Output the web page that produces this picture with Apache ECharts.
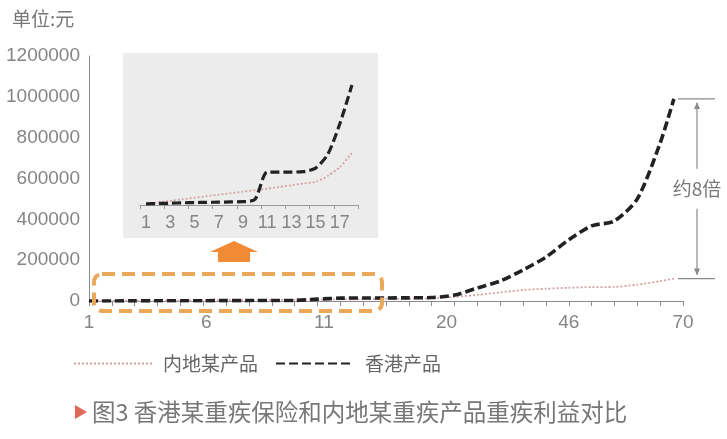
<!DOCTYPE html>
<html><head><meta charset="utf-8">
<script src="https://cdn.jsdelivr.net/npm/echarts@6/dist/echarts.min.js"></script>
<style>html,body{margin:0;padding:0;background:#fff}#c{width:727px;height:439px}</style>
</head><body><div id="c"></div>
<script>
// ---- data ----
const xPos = [0,1,2,3,4,5,6,7,8,9,10,11,12,13,14,15,16,17,18,19,20,21,22,23,24,25,25.6];
const xTickLabels = {0:'1',5:'6',10:'11',16:'20',21:'46',26:'70'};
const mainlandMain = [0,500,1000,1500,2000,2800,3500,4200,5000,6000,7000,8000,9000,10000,11000,13000,20000,30000,42000,54000,60000,65000,68000,69000,80000,97000,110000];
const hkMain = [0,300,600,900,1200,1500,1800,2100,2400,2800,9000,14000,14500,15000,15500,17000,29000,64000,98000,152000,215000,300000,368000,392000,500000,774000,990000];
const insetYears = ['1','2','3','4','5','6','7','8','9','10','11','12','13','14','15','16','17','18'];
const mainlandInset = [500,1200,1900,2600,3300,4000,4700,5400,6100,6800,7400,8200,9000,9800,10500,13200,17300,23700];
const hkInset = [500,700,800,1000,1100,1200,1300,1400,1500,2600,15000,15000,15000,15200,16800,23000,37000,54600];
const yMin = 0, yMax = 1200000, yStep = 200000;
const seriesNames = ['内地某产品','香港产品'];
const unitText = '单位:元';
const ratioText = '约8倍';
const captionText = '图3 香港某重疾保险和内地某重疾产品重疾利益对比';

const FONT = '"Liberation Sans","Noto Sans CJK SC",sans-serif';
const CJK = '"Noto Sans CJK SC","Liberation Sans",sans-serif';
const GREY = '#858585';
const DOT = '#d2a3a3';
const DASH = '#222';

// small horizontal nudges of individual tick labels (layout only)
const labelNudge = {'6': [0, 0, 0, 6], '11': [0, 0, 0, 13], '20': [0, 16, 0, 0]};

const chart = echarts.init(document.getElementById('c'));
const pair = (arr) => arr.map((v, i) => [xPos[i], v]);

const rich = {};
Object.keys(labelNudge).forEach((k, i) => {
  rich['n' + i] = {fontSize: 19, color: GREY, padding: labelNudge[k]};
});

chart.setOption({
  animation: false,
  backgroundColor: '#fff',
  textStyle: {fontFamily: FONT},
  grid: [
    {left: 89, right: 44, top: 56, bottom: 138},
    {left: 140, right: 369, top: 60, bottom: 234}
  ],
  legend: {
    left: 73, top: 354, padding: 0, itemWidth: 78, itemHeight: 10, itemGap: 17,
    data: seriesNames,
    itemStyle: {opacity: 0},
    textStyle: {fontSize: 19, color: '#666', fontFamily: CJK, padding: [0, 0, 0, 6]}
  },
  xAxis: [
    {
      type: 'value', gridIndex: 0, min: 0, max: 26, interval: 1,
      axisLine: {lineStyle: {color: '#8a8a8a', width: 1}},
      axisTick: {show: true, length: 5, lineStyle: {color: '#8a8a8a'}},
      splitLine: {show: false},
      axisLabel: {
        fontSize: 19, color: GREY, margin: 12,
        formatter: v => {
          const t = xTickLabels[v];
          if (t === undefined) return '';
          const idx = Object.keys(labelNudge).indexOf(t);
          return idx >= 0 ? '{n' + idx + '|' + t + '}' : t;
        },
        rich: rich
      }
    },
    {
      type: 'category', gridIndex: 1, data: insetYears, boundaryGap: true,
      axisLine: {lineStyle: {color: '#9a9a9a', width: 1}},
      axisTick: {show: true, length: 4, lineStyle: {color: '#9a9a9a'}},
      axisLabel: {interval: 1, fontSize: 18, color: GREY, margin: 9}
    }
  ],
  yAxis: [
    {
      type: 'value', gridIndex: 0, min: yMin, max: yMax, interval: yStep,
      axisLine: {show: true, lineStyle: {color: '#8a8a8a', width: 1}},
      axisTick: {show: false},
      splitLine: {show: false},
      axisLabel: {fontSize: 19, color: GREY, margin: 9, formatter: v => String(v)}
    },
    {
      type: 'value', gridIndex: 1, min: 0, max: 66000, show: false, splitLine: {show: false}
    }
  ],
  series: [
    {
      name: seriesNames[0], type: 'line', xAxisIndex: 0, yAxisIndex: 0,
      data: pair(mainlandMain), symbol: 'none', smooth: 0.25,
      lineStyle: {color: DOT, width: 1.8, type: [2, 2]}, itemStyle: {color: DOT}, z: 3
    },
    {
      name: seriesNames[1], type: 'line', xAxisIndex: 0, yAxisIndex: 0,
      data: pair(hkMain), symbol: 'none', smooth: 0.25,
      lineStyle: {color: DASH, width: 3.6, type: [9, 4]}, itemStyle: {color: DASH}, z: 4
    },
    {
      name: seriesNames[0], type: 'line', xAxisIndex: 1, yAxisIndex: 1,
      data: mainlandInset, symbol: 'none', smooth: 0.25,
      lineStyle: {color: DOT, width: 1.8, type: [2, 2]}, itemStyle: {color: DOT}, z: 3
    },
    {
      name: seriesNames[1], type: 'line', xAxisIndex: 1, yAxisIndex: 1,
      data: hkInset, symbol: 'none', smooth: 0.25,
      lineStyle: {color: DASH, width: 3.2, type: [9, 4]}, itemStyle: {color: DASH}, z: 4
    }
  ]
});

const last = xPos.length - 1;
const topY = chart.convertToPixel({gridIndex: 0}, [xPos[last], hkMain[last]])[1];
const botY = chart.convertToPixel({gridIndex: 0}, [xPos[last], mainlandMain[last]])[1];
const bx = 697, midY = (topY + botY) / 2;
const BR = '#8a8a8a';

chart.setOption({
  graphic: [
    {type: 'rect', z: -10, silent: true, shape: {x: 123, y: 53, width: 255, height: 185}, style: {fill: '#ececec'}},
    {type: 'polygon', z: 10, shape: {points: [[210, 252], [258, 252], [234, 241]]}, style: {fill: '#f08a34'}},
    {type: 'rect', z: 10, shape: {x: 218, y: 251, width: 32, height: 11}, style: {fill: '#f08a34'}},
    {type: 'rect', z: 10, shape: {x: 94, y: 274, width: 288, height: 37, r: 8},
      style: {fill: 'none', stroke: '#eba85b', lineWidth: 4, lineDash: [13, 7]}},
    {type: 'line', z: 10, shape: {x1: 678, y1: topY, x2: 715, y2: topY}, style: {stroke: BR, lineWidth: 1.2}},
    {type: 'line', z: 10, shape: {x1: 678, y1: botY, x2: 715, y2: botY}, style: {stroke: BR, lineWidth: 1.2}},
    {type: 'line', z: 10, shape: {x1: bx, y1: topY + 4, x2: bx, y2: midY - 20}, style: {stroke: BR, lineWidth: 1.2}},
    {type: 'line', z: 10, shape: {x1: bx, y1: midY + 20, x2: bx, y2: botY - 4}, style: {stroke: BR, lineWidth: 1.2}},
    {type: 'polygon', z: 10, shape: {points: [[bx - 3, topY + 10], [bx + 3, topY + 10], [bx, topY + 3]]}, style: {fill: BR}},
    {type: 'polygon', z: 10, shape: {points: [[bx - 3, botY - 10], [bx + 3, botY - 10], [bx, botY - 3]]}, style: {fill: BR}},
    {type: 'text', z: 10, style: {text: ratioText, x: bx, y: midY, align: 'center', verticalAlign: 'middle',
      fontSize: 19, fill: '#777', fontFamily: CJK}},
    {type: 'text', z: 10, style: {text: unitText, x: 12, y: 19, verticalAlign: 'middle',
      fontSize: 19, fill: '#777', fontFamily: CJK}},
    {type: 'polygon', z: 10, shape: {points: [[75, 405], [75, 419], [87, 412]]}, style: {fill: '#e06a5a'}},
    {type: 'text', z: 10, style: {text: captionText, x: 92, y: 412, verticalAlign: 'middle',
      fontSize: 23.5, fill: '#777', fontFamily: CJK}}
  ]
});
</script></body></html>
